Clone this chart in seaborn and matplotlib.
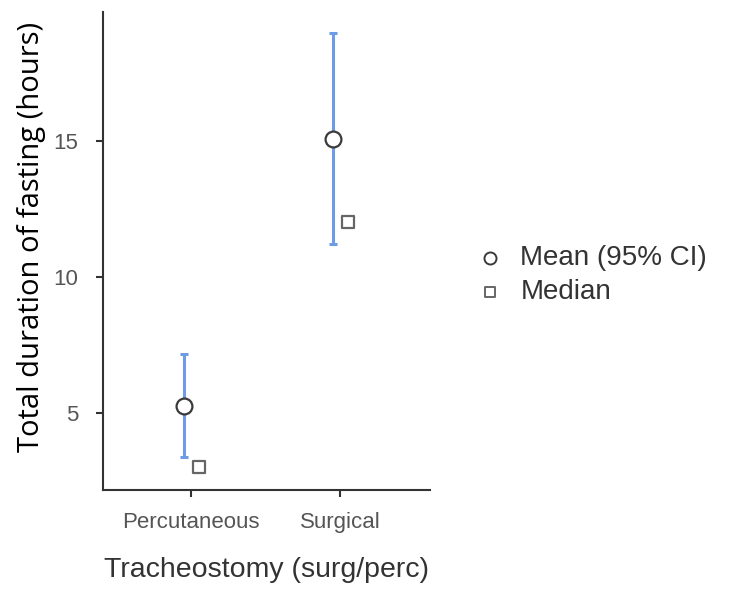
import numpy as np
import pandas as pd
import matplotlib
matplotlib.use("Agg")
import matplotlib.pyplot as plt
import seaborn as sns

sns.set_theme(style="white")
plt.rcParams['font.family'] = ['Liberation Sans', 'DejaVu Sans']

# values
groups = ["Percutaneous", "Surgical"]
mean_vals = [5.26, 15.07]
ci_low = [3.38, 11.21]
ci_high = [7.17, 18.97]
median_vals = [3.0, 12.02]

pos = np.arange(len(groups))
off = 0.05

means = pd.DataFrame({"x": pos - off, "y": mean_vals, "stat": "Mean (95% CI)"})
medians = pd.DataFrame({"x": pos + off, "y": median_vals, "stat": "Median"})

fig = plt.figure(figsize=(7.32, 5.98), dpi=100)
ax = fig.add_axes([103 / 732, 1 - 490 / 598, (430 - 103) / 732, (490 - 12) / 598])

# CI bars
ax.errorbar(means["x"], means["y"],
            yerr=[means["y"] - np.array(ci_low), np.array(ci_high) - means["y"]],
            fmt="none", ecolor="#6d9be6", elinewidth=2.2, capsize=3, capthick=2.2, zorder=1)

sns.scatterplot(data=means, x="x", y="y", marker="o", s=130, color="white",
                edgecolor="#3a3a3a", linewidth=1.6, ax=ax, zorder=3, label="Mean (95% CI)")
sns.scatterplot(data=medians, x="x", y="y", marker="s", s=85, color="white",
                edgecolor="#666666", linewidth=1.6, ax=ax, zorder=3, label="Median")

ax.set_xlim(-0.59, 1.60)
ax.set_ylim(2.17, 19.74)
ax.set_xticks(pos)
ax.set_xticklabels(groups)
ax.set_yticks([5, 10, 15])

for s in ["top", "right"]:
    ax.spines[s].set_visible(False)
for s in ["left", "bottom"]:
    ax.spines[s].set_color("#333333")
    ax.spines[s].set_linewidth(1.5)

ax.tick_params(axis="both", direction="out", length=5, width=1.5, color="#333333",
               labelcolor="#555555", labelsize=16, bottom=True, left=True)
ax.tick_params(axis="x", pad=11)
ax.tick_params(axis="y", pad=13)

ax.set_xlabel("Tracheostomy (surg/perc)", fontsize=20.5, color="#333333")
ax.xaxis.set_label_coords(0.5, -0.14)
ax.set_ylabel("Total duration of fasting (hours)", fontsize=21, color="black",
              family=["Open Sans", "DejaVu Sans"])
ax.yaxis.set_label_coords(-0.175, 0.53)

leg = ax.legend(loc="center left", bbox_to_anchor=((476 - 103) / 327, (490 - 275) / 478),
                frameon=False, fontsize=20, handlelength=1.0, handletextpad=0.6,
                borderpad=0, borderaxespad=0, labelspacing=0.28)
leg.legend_handles[0].set_sizes([75])
leg.legend_handles[1].set_sizes([55])
for h in leg.legend_handles:
    h.set_linewidth(1.4)
for t in leg.get_texts():
    t.set_color("#333333")

fig.savefig("out.png", dpi=100)
